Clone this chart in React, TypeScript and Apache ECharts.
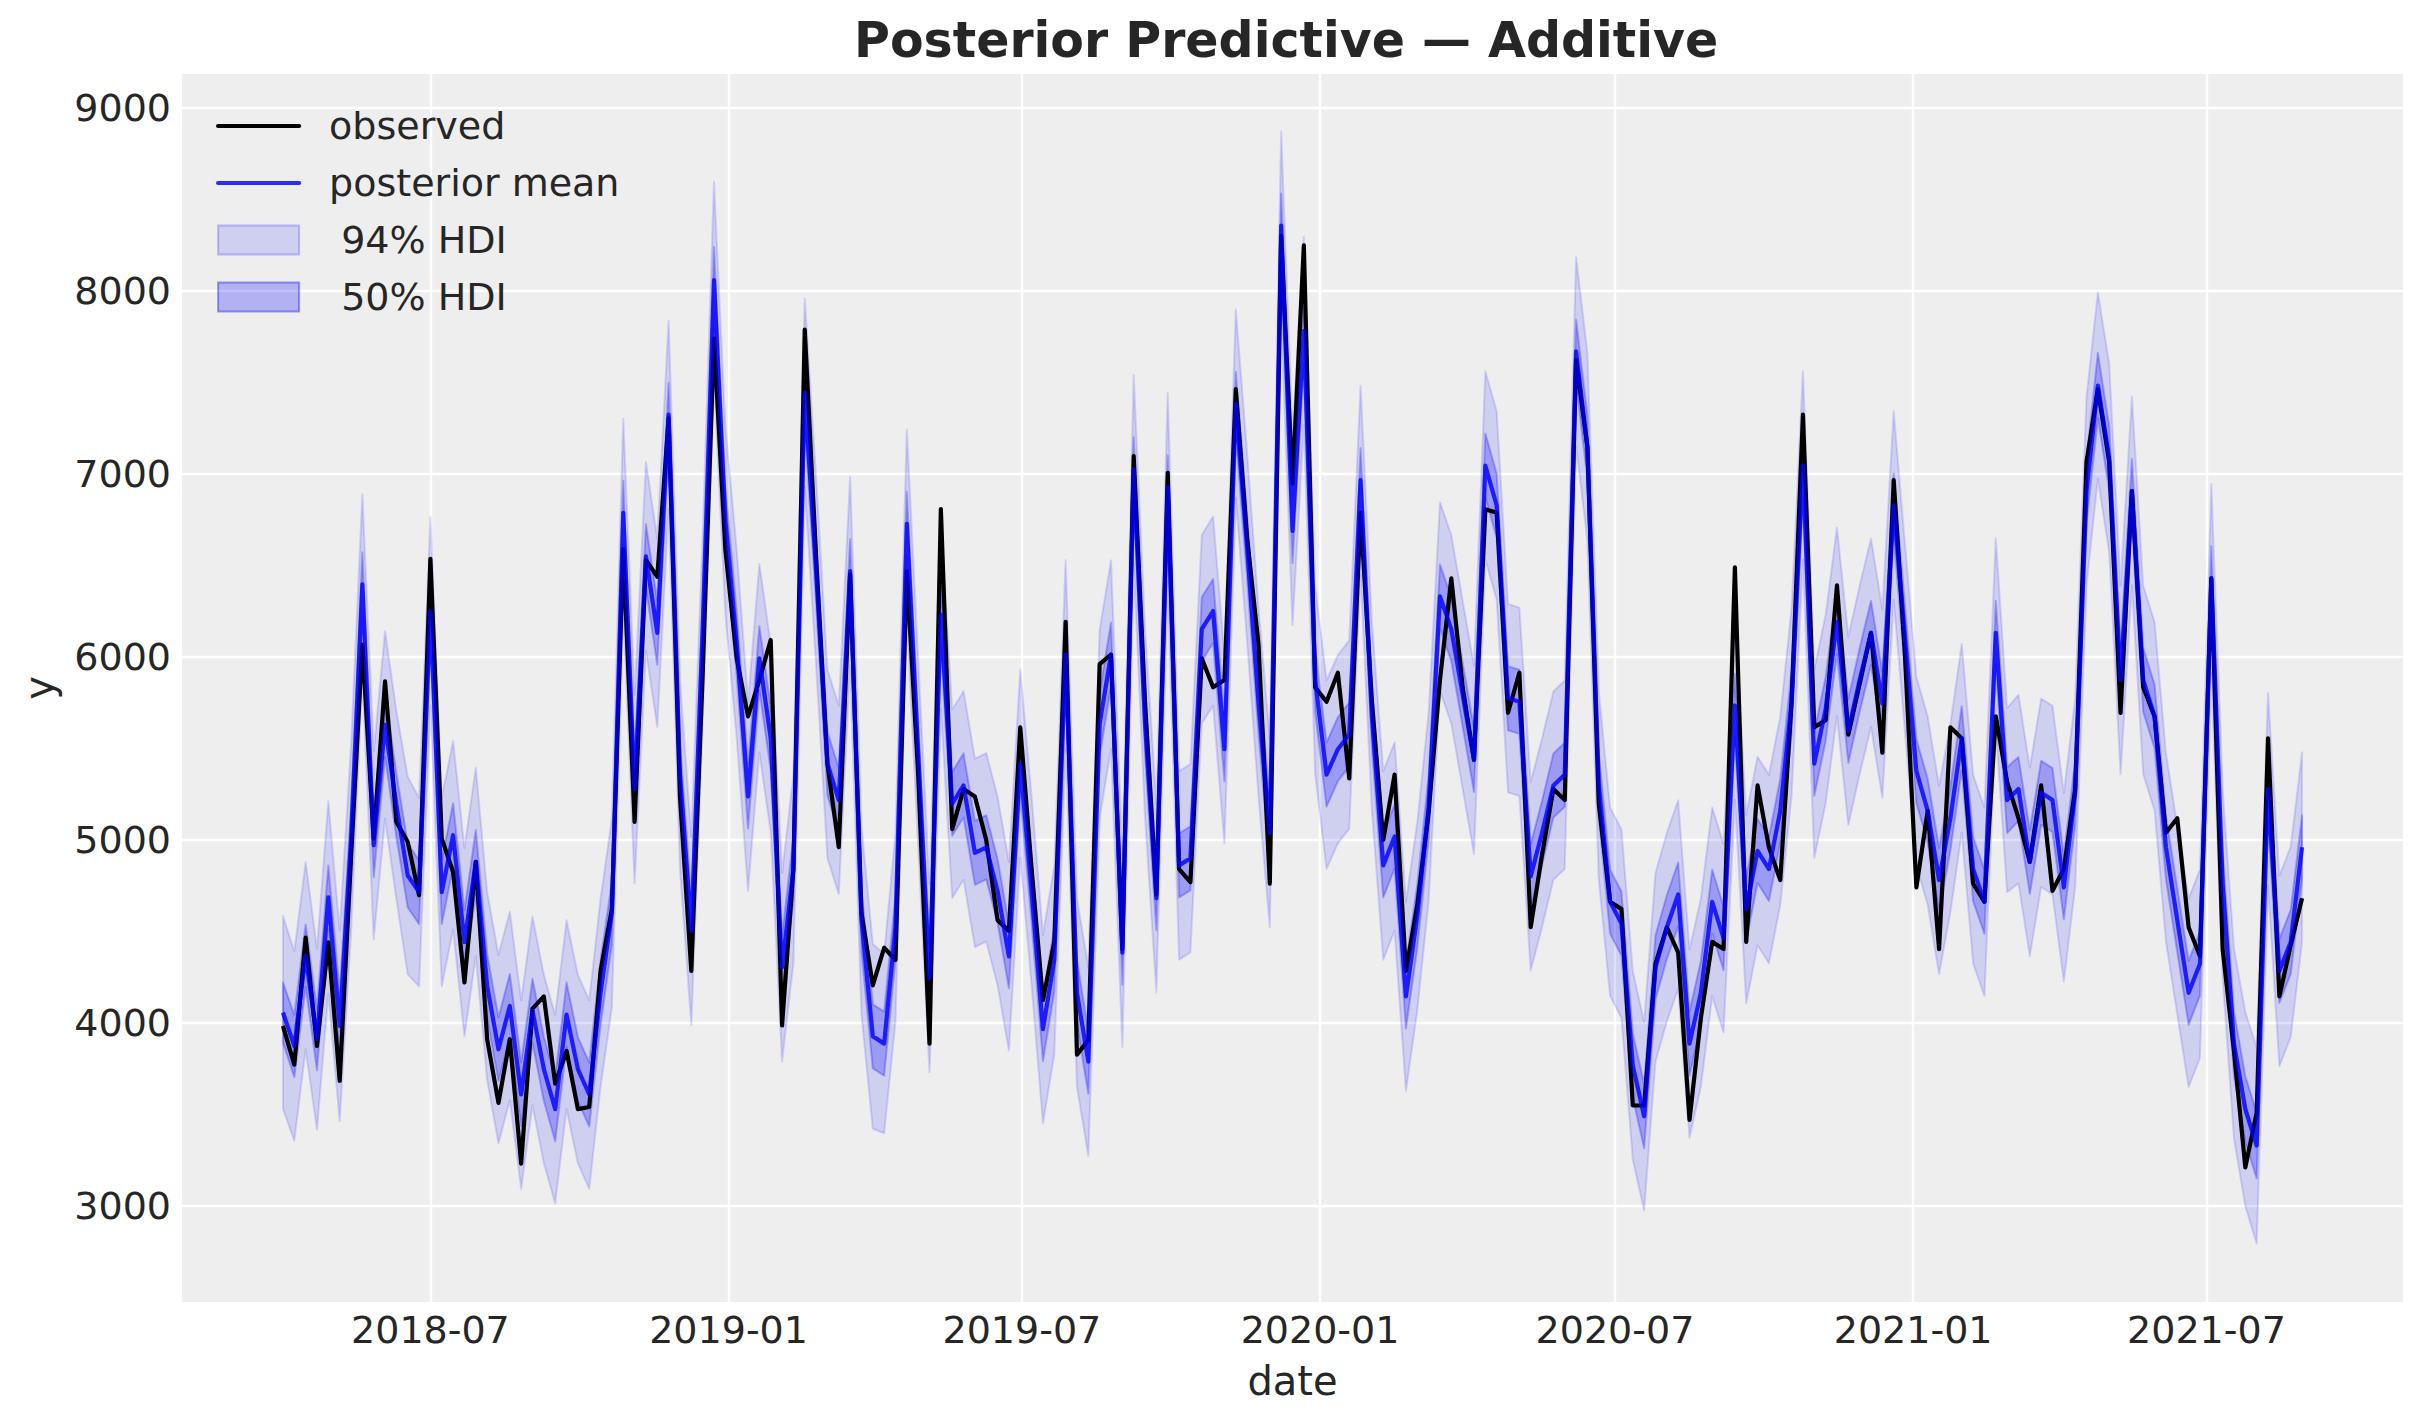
import React, { useEffect, useRef } from 'react';
import * as echarts from 'echarts';

// weekly observations starting on this Sunday
const FIRST_WEEK = '2018-04-01';

const observed = [
  3984, 3772, 4466, 3874, 4441, 3684, 4900, 6068, 5007, 5867,
  5099, 4989, 4697, 6536, 5007, 4825, 4221, 4880, 3911, 3563,
  3911, 3231, 4078, 4145, 3668, 3847, 3529, 3541, 4284, 4622,
  6589, 5099, 6530, 6438, 7305, 5238, 4284, 5900, 7742, 6589,
  5993, 5675, 5874, 6093, 3986, 4841, 7789, 6549, 5417, 4960,
  6450, 4602, 4205, 4411, 4344, 6470, 5357, 3887, 6808, 5059,
  5278, 5238, 5000, 4562, 4503, 5616, 4841, 4125, 4443, 6192,
  3827, 3907, 5961, 6013, 4404, 7098, 5755, 4702, 7006, 4841,
  4769, 5993, 5834, 5874, 7464, 6650, 6073, 4761, 8300, 6947,
  8250, 5834, 5755, 5914, 5337, 6788, 5755, 5000, 5357, 4284,
  4642, 5150, 5874, 6430, 5834, 5437, 6808, 6788, 5695, 5914,
  4523, 4920, 5278, 5218, 7622, 7146, 5198, 4662, 4622, 3549,
  3549, 4324, 4523, 4384, 3470, 4026, 4443, 4404, 6490, 4443,
  5298, 4960, 4781, 5755, 7324, 5616, 5655, 6391, 5576, 5854,
  6132, 5477, 6967, 6000, 4741, 5159, 4404, 5616, 5556, 4761,
  4662, 5675, 5318, 5119, 4880, 5298, 4722, 4841, 5278, 7066,
  7464, 7066, 5695, 6907, 5834, 5675, 5039, 5119, 4523, 4364,
  6430, 4404, 3847, 3211, 3509, 5556, 4145, 4424, 4682,
];

const posteriorMean = [
  4057, 3874, 4368, 3911, 4686, 3984, 5000, 6397, 4971, 5629,
  5190, 4806, 4715, 6250, 4715, 5026, 4441, 4880, 4203, 3856,
  4093, 3609, 4066, 3748, 3529, 4046, 3748, 3609, 4165, 4602,
  6788, 5278, 6550, 6132, 7324, 5357, 4503, 6150, 8060, 6750,
  6073, 5238, 5993, 5556, 4304, 4841, 7444, 6470, 5417, 5218,
  6470, 4562, 3927, 3887, 4523, 6728, 5477, 4245, 6232, 5198,
  5298, 4930, 4960, 4721, 4364, 5417, 4721, 3966, 4344, 6013,
  4165, 3788, 5635, 6013, 4384, 7026, 5636, 4682, 6927, 4861,
  4900, 6152, 6251, 5496, 7384, 6600, 5755, 5039, 8358, 6689,
  7781, 5874, 5357, 5496, 5576, 6967, 5675, 4861, 5019, 4145,
  4582, 5180, 6331, 6152, 5794, 5437, 7046, 6828, 5775, 5755,
  4801, 5039, 5298, 5357, 7670, 7146, 5300, 4662, 4543, 3768,
  3490, 4304, 4523, 4702, 3887, 4165, 4662, 4463, 5735, 4622,
  4940, 4841, 5159, 5755, 7046, 5417, 5715, 6192, 5596, 5874,
  6132, 5745, 6828, 6100, 5377, 5159, 4781, 5119, 5556, 4841,
  4662, 6132, 5218, 5278, 4880, 5258, 5218, 4741, 5258, 6907,
  7483, 7086, 5874, 6907, 5874, 5675, 4960, 4562, 4165, 4324,
  6430, 4761, 3887, 3529, 3330, 5278, 4284, 4443, 4960,
];

// half-widths of the HDI bands around the posterior mean
const hdi94Half = [
  527, 517, 512, 494, 526, 520, 515, 493, 515, 512,
  515, 540, 515, 515, 515, 515, 515, 515, 515, 515,
  515, 515, 515, 515, 515, 515, 515, 515, 515, 515,
  515, 515, 515, 515, 515, 515, 515, 515, 536, 515,
  515, 515, 515, 515, 515, 515, 515, 515, 515, 515,
  515, 515, 505, 490, 515, 515, 515, 515, 515, 515,
  515, 515, 515, 515, 515, 515, 515, 515, 515, 515,
  515, 515, 515, 515, 515, 515, 515, 515, 515, 515,
  515, 515, 517, 515, 515, 515, 515, 515, 515, 515,
  515, 515, 515, 515, 515, 515, 515, 515, 515, 515,
  515, 515, 515, 515, 515, 515, 515, 515, 515, 515,
  515, 515, 515, 515, 515, 515, 515, 515, 515, 515,
  515, 515, 515, 515, 515, 515, 515, 515, 515, 515,
  515, 515, 515, 515, 515, 515, 515, 515, 515, 515,
  515, 515, 515, 515, 515, 515, 515, 515, 515, 515,
  515, 515, 503, 515, 515, 515, 515, 515, 515, 515,
  509, 515, 515, 515, 515, 515, 515, 515, 515, 515,
  515, 515, 520, 530, 536, 525, 520, 520, 520,
];

const hdi50Half = [
  165, 170, 170, 170, 175, 175, 175, 175, 175, 175,
  175, 175, 175, 175, 175, 175, 175, 175, 175, 175,
  175, 175, 175, 175, 175, 175, 175, 175, 175, 175,
  175, 175, 175, 175, 175, 175, 175, 175, 180, 175,
  175, 175, 175, 175, 175, 175, 175, 175, 175, 175,
  175, 175, 175, 175, 175, 175, 175, 175, 175, 175,
  175, 175, 175, 175, 175, 175, 175, 175, 175, 175,
  175, 175, 175, 175, 175, 175, 175, 175, 175, 175,
  175, 175, 175, 175, 175, 175, 175, 175, 175, 175,
  175, 175, 175, 175, 175, 175, 175, 175, 175, 175,
  175, 175, 175, 175, 175, 175, 175, 175, 175, 175,
  175, 175, 175, 175, 175, 175, 175, 175, 175, 175,
  175, 175, 175, 175, 175, 175, 175, 175, 175, 175,
  175, 175, 175, 175, 175, 175, 175, 175, 175, 175,
  175, 175, 175, 175, 175, 175, 175, 175, 175, 175,
  175, 175, 180, 175, 175, 175, 175, 175, 175, 175,
  179, 175, 175, 175, 175, 175, 175, 175, 175, 175,
  175, 175, 175, 180, 180, 175, 175, 175, 175,
];

const xTickLabels = ['2018-07', '2019-01', '2019-07', '2020-01', '2020-07', '2021-01', '2021-07'];
const yTickValues = [3000, 4000, 5000, 6000, 7000, 8000, 9000];

const DAY = 86400000;
const TEXT = '#262626';
const FONT = 'DejaVu Sans';
const FILL94 = 'rgba(0,0,255,0.13)';
const FILL50 = 'rgba(0,0,255,0.25)';
const MEAN_COLOR = 'rgba(0,0,255,0.82)';
const LINE_W = 4.2;

export default function App() {
  const ref = useRef<HTMLDivElement>(null);

  useEffect(() => {
    if (!ref.current) return;
    const chart = echarts.init(ref.current, null, { renderer: 'svg' });

    const start = Date.parse(FIRST_WEEK + 'T00:00:00Z');
    const dates = observed.map((_, i) => start + i * 7 * DAY);
    const n = dates.length;
    const span = dates[n - 1] - dates[0];
    const xMin = dates[0] - span * 0.05;
    const xMax = dates[n - 1] + span * 0.05;
    const xTicks = xTickLabels.map((s) => Date.parse(s + '-01T00:00:00Z'));

    const lo94 = posteriorMean.map((m, i) => m - hdi94Half[i]);
    const hi94 = posteriorMean.map((m, i) => m + hdi94Half[i]);
    const lo50 = posteriorMean.map((m, i) => m - hdi50Half[i]);
    const hi50 = posteriorMean.map((m, i) => m + hdi50Half[i]);

    const band = (name: string, lo: number[], hi: number[], fill: string, z: number) => ({
      type: 'custom',
      name,
      z,
      silent: true,
      clip: true,
      data: [[dates[0], lo[0]]],
      itemStyle: { color: fill },
      renderItem: (_params: any, api: any) => {
        const pts: number[][] = [];
        for (let i = 0; i < n; i++) pts.push(api.coord([dates[i], hi[i]]));
        for (let i = n - 1; i >= 0; i--) pts.push(api.coord([dates[i], lo[i]]));
        return {
          type: 'polygon',
          shape: { points: pts },
          style: { fill, stroke: fill, lineWidth: 2, lineJoin: 'round' },
        };
      },
    });

    const fmt = (v: number) => {
      const d = new Date(v);
      return d.getUTCFullYear() + '-' + String(d.getUTCMonth() + 1).padStart(2, '0');
    };

    chart.setOption({
      animation: false,
      backgroundColor: '#ffffff',
      textStyle: { fontFamily: FONT, color: TEXT },
      title: {
        text: 'Posterior Predictive — Additive',
        left: 854,
        top: 16,
        padding: 0,
        textStyle: { fontFamily: FONT, fontSize: 49, fontWeight: 'bold', color: TEXT },
      },
      legend: {
        orient: 'vertical',
        left: 216,
        top: 107,
        padding: 0,
        itemWidth: 81,
        itemHeight: 29,
        itemGap: 19,
        textStyle: { fontFamily: FONT, fontSize: 38, color: TEXT, padding: [0, 0, 0, 25] },
        data: [
          {
            name: 'observed',
            itemStyle: { opacity: 0 },
            lineStyle: { color: '#000000', width: LINE_W, cap: 'round' },
          },
          {
            name: 'posterior mean',
            itemStyle: { opacity: 0 },
            lineStyle: { color: MEAN_COLOR, width: LINE_W, cap: 'round' },
          },
          {
            name: ' 94% HDI',
            icon: 'rect',
            itemStyle: { color: FILL94, borderColor: 'rgba(0,0,255,0.22)', borderWidth: 2 },
          },
          {
            name: ' 50% HDI',
            icon: 'rect',
            itemStyle: { color: FILL50, borderColor: 'rgba(0,0,255,0.38)', borderWidth: 2 },
          },
        ],
      },
      grid: {
        left: 182,
        right: 20,
        top: 74,
        bottom: 121,
        show: true,
        backgroundColor: '#eeeeee',
        borderWidth: 0,
        containLabel: false,
      },
      xAxis: {
        type: 'value',
        min: xMin,
        max: xMax,
        name: 'date',
        nameLocation: 'middle',
        nameGap: 59,
        nameTextStyle: { fontFamily: FONT, fontSize: 40, color: TEXT },
        axisLine: { show: false },
        axisTick: { show: false, customValues: xTicks },
        axisLabel: {
          customValues: xTicks,
          formatter: fmt,
          fontFamily: FONT,
          fontSize: 38,
          color: TEXT,
          margin: 9,
          hideOverlap: false,
        },
        splitLine: { show: true, lineStyle: { color: '#ffffff', width: 2.4 } },
      },
      yAxis: {
        type: 'value',
        min: 2475,
        max: 9186,
        name: 'y',
        nameLocation: 'middle',
        nameGap: 123,
        nameTextStyle: { fontFamily: FONT, fontSize: 40, color: TEXT },
        axisLine: { show: false },
        axisTick: { show: false, customValues: yTickValues },
        axisLabel: {
          customValues: yTickValues,
          formatter: (v: number) => String(v),
          fontFamily: FONT,
          fontSize: 38,
          color: TEXT,
          margin: 11,
        },
        splitLine: { show: true, lineStyle: { color: '#ffffff', width: 2.4 } },
      },
      series: [
        band(' 94% HDI', lo94, hi94, FILL94, 1),
        band(' 50% HDI', lo50, hi50, FILL50, 2),
        {
          name: 'observed',
          type: 'line',
          data: observed.map((v, i) => [dates[i], v]),
          symbol: 'none',
          itemStyle: { color: '#000000' },
          lineStyle: { color: '#000000', width: LINE_W, join: 'round' },
          z: 3,
        },
        {
          name: 'posterior mean',
          type: 'line',
          data: posteriorMean.map((v, i) => [dates[i], v]),
          symbol: 'none',
          itemStyle: { color: MEAN_COLOR },
          lineStyle: { color: MEAN_COLOR, width: LINE_W, join: 'round' },
          z: 4,
        },
      ],
    });

    return () => chart.dispose();
  }, []);

  return (
    <div
      ref={ref}
      style={{ position: 'fixed', left: 0, top: 0, width: 2423, height: 1423, background: '#ffffff' }}
    />
  );
}
